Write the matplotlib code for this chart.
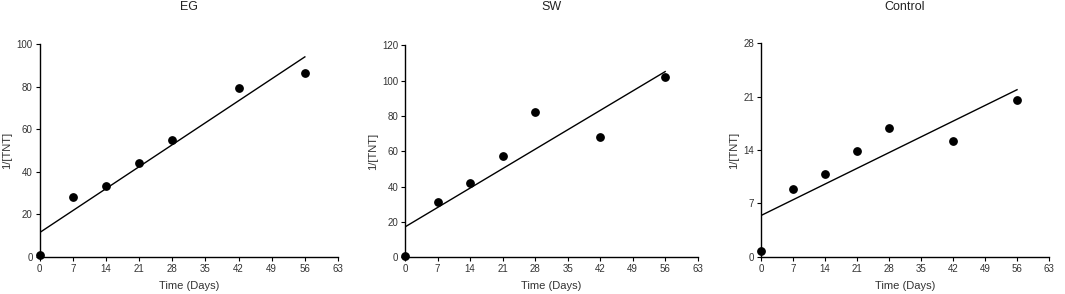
import matplotlib
matplotlib.use("Agg")
import matplotlib.pyplot as plt
import numpy as np

plt.rcParams['font.family'] = ['Liberation Sans', 'DejaVu Sans']

days = [0, 7, 14, 21, 28, 42, 56]
titles = ["EG", "SW", "Control"]
eg_values = [0.8, 28.0, 33.5, 44.0, 55.0, 79.5, 86.5]
sw_values = [0.5, 31.5, 42.3, 57.2, 82.0, 68.2, 102.0]
control_values = [0.8, 8.9, 10.9, 13.9, 16.9, 15.2, 20.6]
fit_days = [0, 56]
eg_fit = [11.4, 94.0]
sw_fit = [17.2, 105.1]
control_fit = [5.4, 21.9]
x_ticks = [0, 7, 14, 21, 28, 35, 42, 49, 56, 63]
eg_yticks = [0, 20, 40, 60, 80, 100]
sw_yticks = [0, 20, 40, 60, 80, 100, 120]
control_yticks = [0, 7, 14, 21, 28]

fig = plt.figure(figsize=(10.65, 2.94), dpi=100)
positions = [
    [0.0371, 0.126, 0.2803, 0.724],
    [0.3803, 0.1248, 0.2748, 0.7212],
    [0.7146, 0.127, 0.2704, 0.726],
]
series = [eg_values, sw_values, control_values]
fits = [eg_fit, sw_fit, control_fit]
yticks = [eg_yticks, sw_yticks, control_yticks]
text_color = "#333333"

for pos, title, vals, fit, yt in zip(positions, titles, series, fits, yticks):
    ax = fig.add_axes(pos)
    ax.plot(fit_days, fit, color="black", lw=1.0, zorder=2)
    ax.scatter(days, vals, s=28, color="black", zorder=3, clip_on=False)
    ax.set_xlim(0, 63)
    ax.set_ylim(yt[0], yt[-1])
    ax.set_xticks(x_ticks)
    ax.set_yticks(yt)
    for s in ["top", "right"]:
        ax.spines[s].set_visible(False)
    for s in ["left", "bottom"]:
        ax.spines[s].set_linewidth(1.0)
    ax.tick_params(direction="out", length=3, width=0.8, labelsize=7,
                   labelcolor=text_color, pad=2)
    ax.set_xlabel("Time (Days)", fontsize=8, color=text_color, labelpad=5)
    ax.set_ylabel("1/[TNT]", fontsize=8, color=text_color, labelpad=3)
    fig.text(pos[0] + pos[2] / 2, 1 - 7.5 / 294, title, fontsize=9,
             color="#222222", ha="center", va="center")

fig.savefig("out.png", dpi=100)
